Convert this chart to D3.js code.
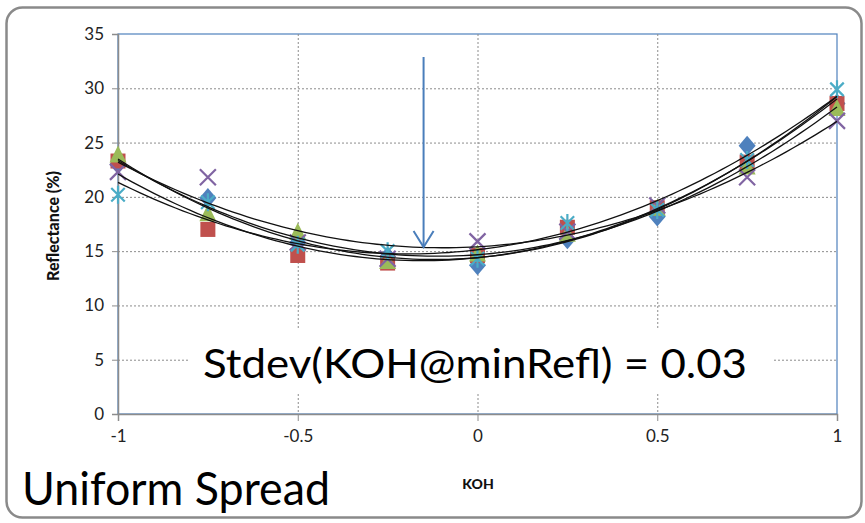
<!DOCTYPE html>
<html><head><meta charset="utf-8">
<script src="https://cdn.jsdelivr.net/npm/d3@7"></script>
<style>html,body{margin:0;padding:0;background:#fff;overflow:hidden}</style>
</head><body>
<svg id="c" width="865" height="523"></svg>
<script>
const kohLevels = [-1, -0.75, -0.5, -0.25, 0, 0.25, 0.5, 0.75, 1];
const seriesNames = ["Run 1", "Run 2", "Run 3", "Run 4", "Run 5"];
const blueValues   = [23.0, 19.9, 15.8, 14.5, 13.7, 16.1, 18.2, 24.7, 28.6];
const redValues    = [23.3, 17.0, 14.6, 13.9, 14.6, 17.2, 19.0, 23.2, 28.6];
const greenValues  = [23.8, 18.4, 16.7, 14.0, 14.7, 16.5, 18.9, 22.7, 28.1];
const purpleValues = [22.3, 21.8, 15.8, 14.3, 15.9, 16.8, 19.2, 21.8, 27.0];
const cyanValues   = [20.2, 19.5, 15.6, 15.0, 14.3, 17.6, 18.8, 23.4, 29.9];
const yTicks = [0, 5, 10, 15, 20, 25, 30, 35];
const xTicks = [-1, -0.5, 0, 0.5, 1];
const arrowKoh = -0.15;

const seriesValues = [blueValues, redValues, greenValues, purpleValues, cyanValues];
const colors = ["#4F81BD", "#C0504D", "#9BBB59", "#8064A2", "#4BACC6"];
const shapes = ["diamond", "square", "triangle", "x", "star"];

const svg = d3.select("#c");
const font = "Lato, 'Open Sans', sans-serif";
const L = 118, R = 837, T = 34, B = 414;
const x = d3.scaleLinear().domain([-1, 1]).range([L, R]);
const y = d3.scaleLinear().domain([0, 35]).range([B, T]);

// outer frame
svg.append("rect").attr("x", 6.5).attr("y", 7.5).attr("width", 855).attr("height", 510)
  .attr("rx", 16).attr("fill", "#fff").attr("stroke", "#8a8a8a").attr("stroke-width", 2.5);

// plot area border (blue)
svg.append("rect").attr("x", L).attr("y", T).attr("width", R - L).attr("height", B - T)
  .attr("fill", "none").attr("stroke", "#4F81BD").attr("stroke-width", 1.2);

// gridlines
svg.append("g").selectAll("line").data(yTicks.filter(d => d > 0 && d < 35)).join("line")
  .attr("x1", L).attr("x2", R).attr("y1", d => y(d) + 0.5).attr("y2", d => y(d) + 0.5)
  .attr("stroke", "#8c8c8c").attr("stroke-width", 1).attr("stroke-dasharray", "2,2");
svg.append("g").selectAll("line").data(xTicks.filter(d => d > -1 && d < 1)).join("line")
  .attr("x1", d => x(d) + 0.5).attr("x2", d => x(d) + 0.5).attr("y1", T).attr("y2", B)
  .attr("stroke", "#8c8c8c").attr("stroke-width", 1).attr("stroke-dasharray", "2,2");

// text box with white background
svg.append("rect").attr("x", 190).attr("y", 328).attr("width", 582).attr("height", 66).attr("fill", "#fff");

// axes
const yAxis = d3.axisLeft(y).tickValues(yTicks).tickSize(6).tickPadding(8);
const gy = svg.append("g").attr("transform", `translate(${L},0)`).call(yAxis);
const xAxis = d3.axisBottom(x).tickValues(xTicks).tickSize(7).tickPadding(9).tickFormat(d3.format("~g"));
const gx = svg.append("g").attr("transform", `translate(0,${B})`).call(xAxis);
[gx, gy].forEach(g => {
  g.select(".domain").attr("stroke", "#8c8c8c").attr("stroke-width", 1.5);
  g.selectAll(".tick line").attr("stroke", "#8c8c8c");
  g.selectAll(".tick text").attr("fill", "#222").attr("font-family", font).attr("font-size", 17);
});
gx.selectAll(".tick text").text(d => d3.format("~g")(d).replace("−", "-"));

// axis titles
svg.append("text").attr("transform", "translate(59,226) rotate(-90)").attr("text-anchor", "middle")
  .attr("font-family", font).attr("font-weight", 900).attr("font-size", 16).attr("fill", "#111")
  .text("Reflectance (%)");
svg.append("text").attr("x", 478).attr("y", 489).attr("text-anchor", "middle")
  .attr("font-family", font).attr("font-weight", 900).attr("font-size", 14).attr("fill", "#111")
  .text("KOH");

// markers
seriesValues.forEach((vals, si) => {
  const g = svg.append("g");
  const c = colors[si];
  vals.forEach((v, i) => {
    const px = x(kohLevels[i]), py = y(v);
    const s = shapes[si];
    if (s === "diamond") {
      g.append("path").attr("d", `M${px},${py-10}L${px+8.5},${py}L${px},${py+10}L${px-8.5},${py}Z`).attr("fill", c);
    } else if (s === "square") {
      g.append("rect").attr("x", px - 7.5).attr("y", py - 7.5).attr("width", 15).attr("height", 15).attr("fill", c);
    } else if (s === "triangle") {
      g.append("path").attr("d", `M${px},${py-10}L${px+8.5},${py+7}L${px-8.5},${py+7}Z`).attr("fill", c);
    } else if (s === "x") {
      const r = 8;
      g.append("path").attr("d", `M${px-r},${py-r}L${px+r},${py+r}M${px-r},${py+r}L${px+r},${py-r}`)
        .attr("stroke", c).attr("stroke-width", 2.2).attr("fill", "none");
    } else {
      const r = 9;
      g.append("path").attr("d", `M${px-r*0.75},${py-r*0.75}L${px+r*0.75},${py+r*0.75}M${px-r*0.75},${py+r*0.75}L${px+r*0.75},${py-r*0.75}M${px},${py-r}L${px},${py+r}`)
        .attr("stroke", c).attr("stroke-width", 2.2).attr("fill", "none");
    }
  });
});

// quadratic trendlines (least squares fit of each series)
function quadFit(xs, ys) {
  let S = [0,0,0,0,0], T3 = [0,0,0];
  xs.forEach((xv, i) => {
    for (let k = 0; k < 5; k++) S[k] += Math.pow(xv, k);
    for (let k = 0; k < 3; k++) T3[k] += ys[i] * Math.pow(xv, k);
  });
  const A = [[S[0],S[1],S[2],T3[0]],[S[1],S[2],S[3],T3[1]],[S[2],S[3],S[4],T3[2]]];
  for (let i = 0; i < 3; i++) {
    for (let j = i + 1; j < 3; j++) {
      const f = A[j][i] / A[i][i];
      for (let k = i; k < 4; k++) A[j][k] -= f * A[i][k];
    }
  }
  const c = [0,0,0];
  for (let i = 2; i >= 0; i--) {
    let s = A[i][3];
    for (let k = i + 1; k < 3; k++) s -= A[i][k] * c[k];
    c[i] = s / A[i][i];
  }
  return c;
}
const line = d3.line().x(d => x(d[0])).y(d => y(d[1]));
seriesValues.forEach(vals => {
  const c = quadFit(kohLevels, vals);
  const pts = d3.range(0, 101).map(i => { const xv = -1 + i * 0.02; return [xv, c[0] + c[1]*xv + c[2]*xv*xv]; });
  svg.append("path").attr("d", line(pts)).attr("fill", "none").attr("stroke", "#111").attr("stroke-width", 1.3);
});

// arrow
const ax = x(arrowKoh);
svg.append("line").attr("x1", ax).attr("x2", ax).attr("y1", 57).attr("y2", 246)
  .attr("stroke", "#4A7EBB").attr("stroke-width", 2);
svg.append("path").attr("d", `M${ax-10},${231}L${ax},${247}L${ax+10},${231}`)
  .attr("stroke", "#4A7EBB").attr("stroke-width", 2).attr("fill", "none");

// annotations
svg.append("text").attr("x", 203).attr("y", 378).attr("font-family", font).attr("font-size", 41)
  .attr("fill", "#000").attr("textLength", 544).attr("lengthAdjust", "spacingAndGlyphs")
  .text("Stdev(KOH@minRefl) = 0.03");
svg.append("text").attr("x", 22).attr("y", 505).attr("font-family", font).attr("font-size", 46)
  .attr("fill", "#000").attr("textLength", 308).attr("lengthAdjust", "spacingAndGlyphs")
  .text("Uniform Spread");
</script>
</body></html>
